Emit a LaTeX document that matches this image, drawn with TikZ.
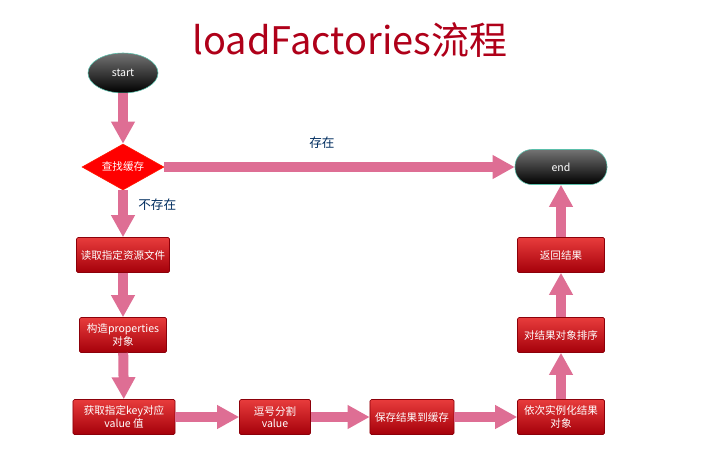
\documentclass[tikz,border=0pt]{standalone}
\usepackage{fontspec}
\setmainfont{Noto Sans CJK SC}
\usetikzlibrary{shapes.geometric,arrows.meta}
\definecolor{titlered}{RGB}{175,0,25}
\definecolor{boxtop}{RGB}{232,60,60}
\definecolor{boxbot}{RGB}{165,0,10}
\definecolor{boxedge}{RGB}{140,0,10}
\definecolor{arrowpink}{RGB}{222,110,148}
\definecolor{labelblue}{RGB}{0,45,95}
\definecolor{termedge}{RGB}{90,190,170}
\begin{document}
\begin{tikzpicture}[x=0.025cm, y=-0.025cm,
  box/.style={rectangle, rounded corners=1pt, draw=boxedge, top color=boxtop, bottom color=boxbot,
    text=white, font=\fontsize{7.5}{8.8}\selectfont, align=center, inner sep=0pt, minimum height=0.875cm},
  term/.style={draw=termedge, top color=black!55, bottom color=black, text=white,
    font=\fontsize{7.5}{8.8}\selectfont, inner sep=0pt},
  flow/.style={draw=arrowpink, line width=0.25cm, -{Triangle[width=0.56cm,length=0.55cm]}},
  lbl/.style={text=labelblue, font=\fontsize{9}{10}\selectfont}]
  \useasboundingbox (0,0) rectangle (720,461);
  \node[text=titlered, font=\fontsize{27}{30}\selectfont] (title) at (350,40) {loadFactories流程};
  % start / end
  \node[term, ellipse, minimum width=1.75cm, minimum height=1cm] (start) at (123,73) {start};
  \node[term, rectangle, rounded corners=12pt, minimum width=2.3cm, minimum height=0.875cm] (end) at (561,167) {end};
  \node[diamond, draw=red!80!orange, fill=red, text=white, font=\fontsize{7.5}{8.8}\selectfont,
    inner sep=0pt, aspect=1.8, minimum width=2.05cm, minimum height=1.15cm] (cache) at (123,167) {查找缓存};
  % left column
  \node[box, minimum width=2.325cm] (read) at (123,255) {读取指定资源文件};
  \node[box, minimum width=2.175cm] (props) at (123,335) {构造properties\\对象};
  \node[box, minimum width=2.55cm] (getkey) at (124,417) {获取指定key对应\\value 值};
  % bottom row
  \node[box, minimum width=1.775cm] (split) at (275,417) {逗号分割\\value};
  \node[box, minimum width=2.1cm] (save) at (412,417) {保存结果到缓存};
  \node[box, minimum width=2.175cm] (inst) at (561,417) {依次实例化结果\\对象};
  % right column
  \node[box, minimum width=2.175cm] (sort) at (561,335) {对结果对象排序};
  \node[box, minimum width=2.175cm] (ret) at (561,255) {返回结果};
  % connectors
  \draw[flow] (start) -- (cache);
  \draw[flow] (cache) -- node[lbl, above=6pt, pos=0.45] {存在} (end);
  \draw[flow] (cache) -- node[lbl, right=4pt, pos=0.3] {不存在} (read);
  \draw[flow] (read) -- (props);
  \draw[flow] (props) -- (getkey);
  \draw[flow] (getkey) -- (split);
  \draw[flow] (split) -- (save);
  \draw[flow] (save) -- (inst);
  \draw[flow] (inst) -- (sort);
  \draw[flow] (sort) -- (ret);
  \draw[flow] (ret) -- (end);
\end{tikzpicture}
\end{document}
